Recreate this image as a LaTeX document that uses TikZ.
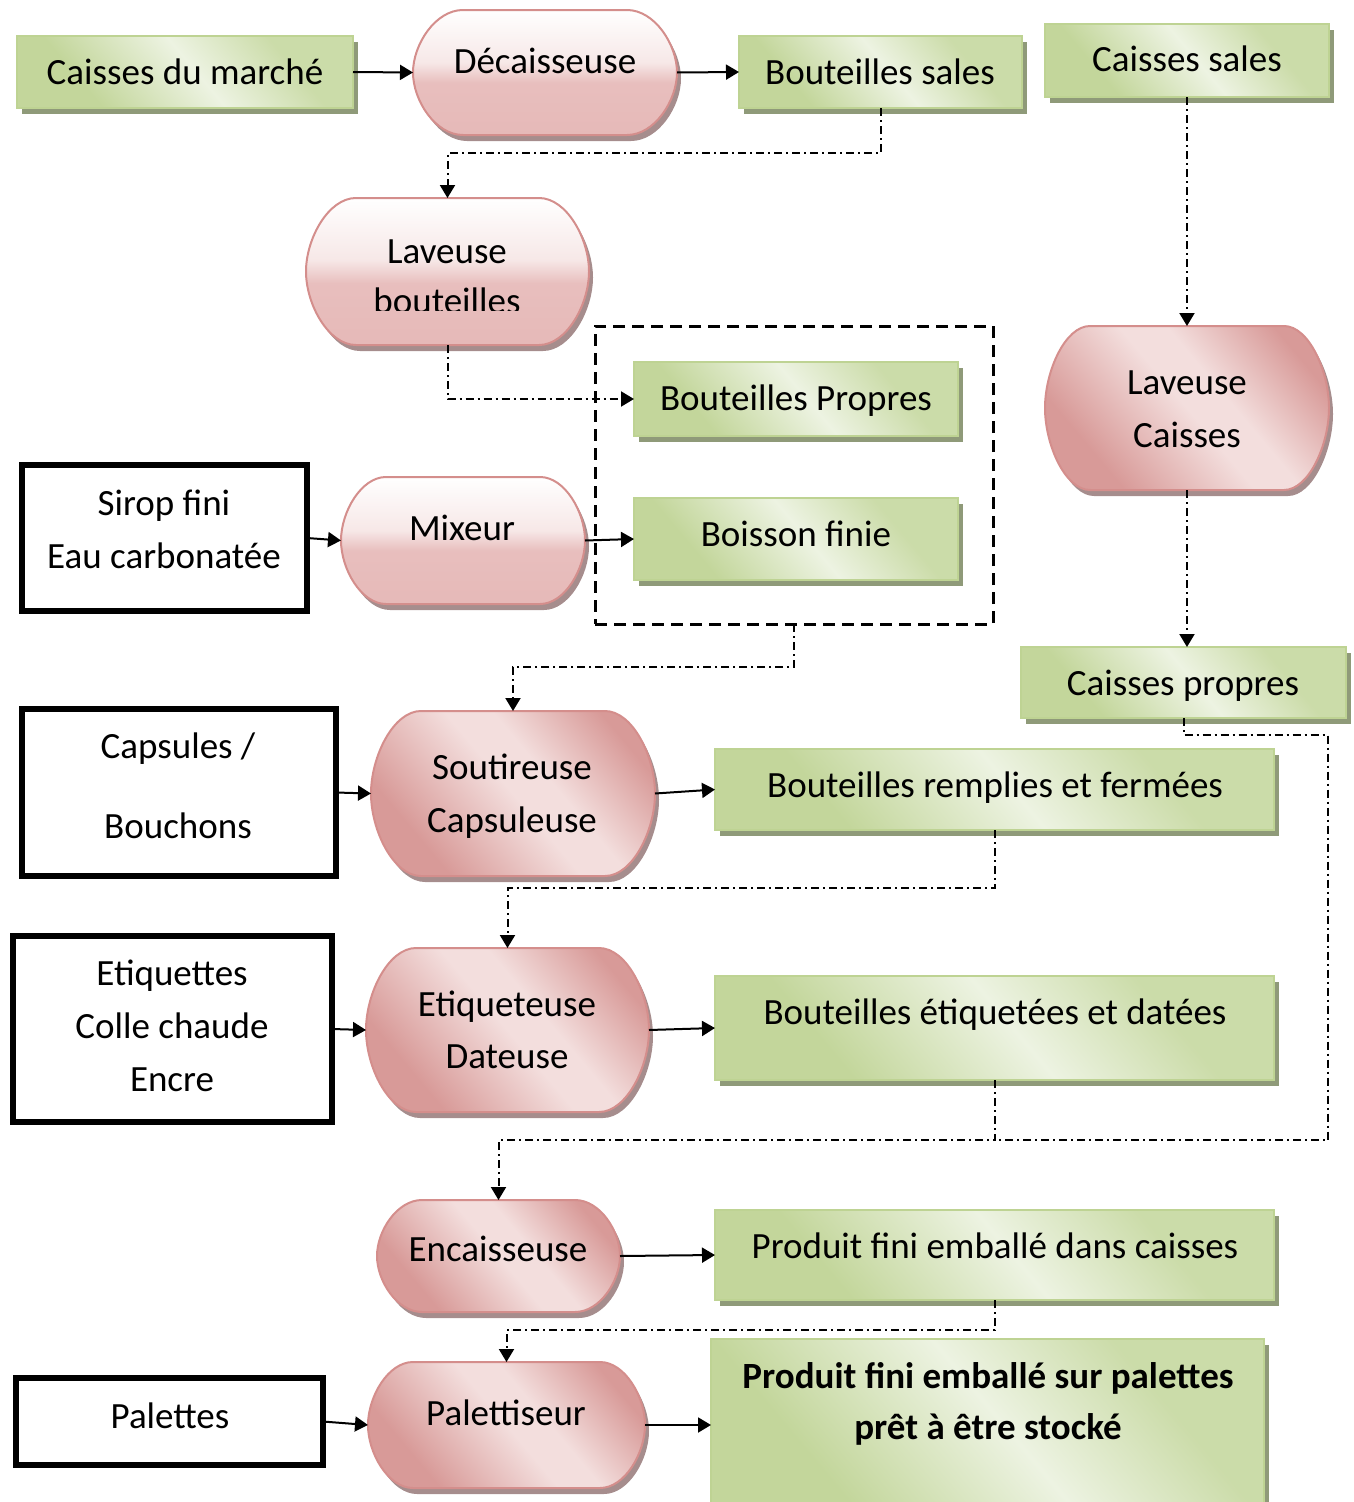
\documentclass[tikz,border=0pt]{standalone}
\usepackage{fontspec}
\setmainfont{Carlito}
\usetikzlibrary{arrows.meta,fit}

\definecolor{gdark}{HTML}{C3D69B}
\definecolor{glight}{HTML}{EDF3E2}
\definecolor{gline}{HTML}{BED393}
\definecolor{gshadow}{HTML}{8F9A79}
\definecolor{pdark}{HTML}{D89A98}
\definecolor{plight}{HTML}{F3DEDD}
\definecolor{pbottom}{HTML}{E6B9B8}
\definecolor{pline}{HTML}{D48E8C}
\definecolor{pshadow}{HTML}{A68D8D}

% diagonal band shadings (light along one diagonal, darker corners)
\pgfdeclarehorizontalshading{greenband}{100bp}{color(0bp)=(gdark); color(30bp)=(gdark); color(52bp)=(glight); color(70bp)=(gdark!80!glight); color(100bp)=(gdark!80!glight)}
\pgfdeclarehorizontalshading{pinkband}{100bp}{color(0bp)=(pdark); color(28bp)=(pdark); color(50bp)=(plight); color(58bp)=(plight); color(76bp)=(pdark); color(100bp)=(pdark)}
% vertical fade: white top, pink lower half
\pgfdeclareverticalshading{pinkfade}{100bp}{color(0bp)=(pbottom); color(25bp)=(pbottom); color(46bp)=(pbottom!92!white); color(54bp)=(plight!70!white); color(75bp)=(white); color(100bp)=(white)}

\tikzset{
  lbl/.style={inner sep=0pt, outer sep=0pt, text height=24pt, text depth=0pt,
    font=\fontsize{37pt}{44pt}\selectfont},
  boldlbl/.style={lbl, font=\fontsize{37pt}{44pt}\selectfont\bfseries},
  greenbox/.style={inner sep=0pt, outer sep=0pt, draw=gline, line width=2pt,
    shading=greenband, shading angle=40},
  inbox/.style={inner sep=0pt, outer sep=0pt, draw=black, line width=6pt},
  frame/.style={inner sep=0pt, outer sep=0pt},
  procv/.style={draw=pline, line width=2pt, shading=pinkfade},
  procd/.style={draw=pline, line width=2pt, shading=pinkband, shading angle=40},
  flow/.style={line width=2pt, -{Triangle[length=13pt,width=15pt]}},
  ddflow/.style={line width=2pt, dash pattern=on 8pt off 4pt on 2pt off 4pt,
    -{Triangle[length=13pt,width=15pt]}},
  ddline/.style={line width=2pt, dash pattern=on 8pt off 4pt on 2pt off 4pt},
  group/.style={inner sep=0pt, outer sep=0pt, draw=black, line width=3pt,
    dash pattern=on 12pt off 7pt},
}

% capsule outline with half-elliptic ends: style, x1, y1, x2, y2, rx
\newcommand\capsule[6]{%
  \path[#1] ({#2+#6},#3) -- ({#4-#6},#3)
    .. controls ({#4-0.448*#6},#3) and (#4,{#3+0.276*(#5-#3)}) .. (#4,{(#3+#5)/2})
    .. controls (#4,{#5-0.276*(#5-#3)}) and ({#4-0.448*#6},#5) .. ({#4-#6},#5)
    -- ({#2+#6},#5)
    .. controls ({#2+0.448*#6},#5) and (#2,{#5-0.276*(#5-#3)}) .. (#2,{(#3+#5)/2})
    .. controls (#2,{#3+0.276*(#5-#3)}) and ({#2+0.448*#6},#3) .. ({#2+#6},#3)
    -- cycle;}

% process step: name, x1, y1, x2, y2, rx, fill style
\newcommand\procstep[7]{%
  \capsule{fill=pshadow, shift={(4,6)}}{#2}{#3}{#4}{#5}{#6}
  \capsule{#7}{#2}{#3}{#4}{#5}{#6}
  \node[frame, fit={(#2,#3)(#4,#5)}] (#1) {};}

% product box: name, x1, y1, x2, y2
\newcommand\prodbox[5]{%
  \fill[gshadow] ({#2+5},{#3+6}) rectangle ({#4+5},{#5+6});
  \node[greenbox, fit={(#2,#3)(#4,#5)}] (#1) {};}

% input box: name, x1, y1, x2, y2
\newcommand\inputbox[5]{%
  \node[inbox, fit={(#2,#3)(#4,#5)}] (#1) {};}

% text line: name, x, y, text
\newcommand\putlabel[4]{\node[lbl] (#1) at (#2,#3) {#4};}

\begin{document}
\begin{tikzpicture}[x=1pt, y=-1pt]
\useasboundingbox (0,0) rectangle (1354,1502);

% ---- product boxes ----
\prodbox{cm}{17}{36}{353}{108}
\prodbox{bsales}{739}{36}{1022}{108}
\prodbox{csales}{1045}{24}{1329}{97}
\prodbox{bprop}{634}{362}{958}{436}
\prodbox{bfin}{634}{498}{958}{580}
\prodbox{cprop}{1021}{647}{1346}{718}
\prodbox{brem}{715}{749}{1274}{830}
\prodbox{bet}{715}{976}{1274}{1080}
\prodbox{pfc}{715}{1210}{1274}{1300}
\prodbox{pfp}{711}{1339}{1264}{1520}

% ---- machines ----
\procstep{dec}{413}{10}{677}{135}{50}{procv}
\procstep{lavb}{306}{198}{589}{345}{50}{procv}
\procstep{lavc}{1045}{326}{1329}{490}{45}{procd}
\procstep{mix}{341}{477}{585}{604}{45}{procv}
\procstep{sout}{371}{711}{655}{876}{50}{procd}
\procstep{etq}{366}{948}{649}{1112}{50}{procd}
\procstep{enc}{377}{1200}{620}{1312}{45}{procd}
\procstep{pal}{368}{1362}{645}{1488}{45}{procd}

% ---- inputs ----
\inputbox{sirop}{22}{465}{307}{611}
\inputbox{caps}{22}{709}{336}{876}
\inputbox{etiq}{13}{936}{332}{1122}
\inputbox{palettes}{16}{1378}{323}{1465}

% ---- filling group ----
\node[group, fit={(595,326)(993,624)}] (grp) {};

% ---- texts ----
\putlabel{tcm}{185}{72}{Caisses du marché}
\putlabel{tdec}{545}{61}{Décaisseuse}
\putlabel{tbsales}{880}{72}{Bouteilles sales}
\putlabel{tcsales}{1187}{59}{Caisses sales}
\putlabel{tlavba}{447}{251}{Laveuse}
\begin{scope}
  \clip (300,270) rectangle (600,310);
  \putlabel{tlavbb}{447}{301}{bouteilles}
\end{scope}
\putlabel{tlavca}{1187}{382}{Laveuse}
\putlabel{tlavcb}{1187}{435}{Caisses}
\putlabel{tbprop}{796}{398}{Bouteilles Propres}
\putlabel{tsiropa}{164}{503}{Sirop fini}
\putlabel{tsiropb}{164}{556}{Eau carbonatée}
\putlabel{tmix}{462}{528}{Mixeur}
\putlabel{tbfin}{796}{534}{Boisson finie}
\putlabel{tcprop}{1183}{683}{Caisses propres}
\putlabel{tcapsa}{178}{746}{Capsules /}
\putlabel{tcapsb}{178}{826}{Bouchons}
\putlabel{tsouta}{512}{767}{Soutireuse}
\putlabel{tsoutb}{512}{820}{Capsuleuse}
\putlabel{tbrem}{995}{785}{Bouteilles remplies et fermées}
\putlabel{tetiqa}{172}{973}{Etiquettes}
\putlabel{tetiqb}{172}{1026}{Colle chaude}
\putlabel{tetiqc}{172}{1079}{Encre}
\putlabel{tetqa}{507}{1004}{Etiqueteuse}
\putlabel{tetqb}{507}{1056}{Dateuse}
\putlabel{tbet}{995}{1012}{Bouteilles étiquetées et datées}
\putlabel{tenc}{498}{1249}{Encaisseuse}
\putlabel{tpfc}{995}{1246}{Produit fini emballé dans caisses}
\putlabel{tpal}{506}{1413}{Palettiseur}
\putlabel{tpalettes}{170}{1416}{Palettes}
\node[boldlbl] (tpfpa) at (988,1376) {Produit fini emballé sur palettes};
\node[boldlbl] (tpfpb) at (988,1427) {prêt à être stocké};

% ---- material flow ----
\draw[flow] (cm.east) -- (dec.west);
\draw[flow] (dec.east) -- (bsales.west);
\draw[ddflow] (bsales.south) -- ++(0,45) -| (lavb.north);
\draw[ddflow] (csales.south) -- (lavc.north);
\draw[ddflow] (lavb.south) |- (bprop.west);
\draw[flow] (sirop.east) -- (mix.west);
\draw[flow] (mix.east) -- (bfin.west);
\draw[ddflow] (lavc.south) -- (lavc.south |- cprop.north);
\draw[ddflow] (grp.south) -- ++(0,43) -| (sout.north);
\draw[flow] (caps.east) -- (sout.west);
\draw[flow] (sout.east) -- (brem.west);
\draw[ddflow] (brem.south) -- ++(0,58) -| (etq.north);
\draw[flow] (etiq.east) -- (etq.west);
\draw[flow] (etq.east) -- (bet.west);
\coordinate (jn) at (994.5,1140);
\coordinate (cpturn) at (1328,735);
\draw[ddflow] (bet.south) -- (jn) -| (enc.north);
\draw[ddline] (cprop.south) |- (cpturn) |- (jn);
\draw[flow] (enc.east) -- (pfc.west);
\draw[ddflow] (pfc.south) -- ++(0,30) -| (pal.north);
\draw[flow] (palettes.east) -- (pal.west);
\draw[flow] (pal.east) -- (pfp.west |- pal.east);
\end{tikzpicture}
\end{document}
